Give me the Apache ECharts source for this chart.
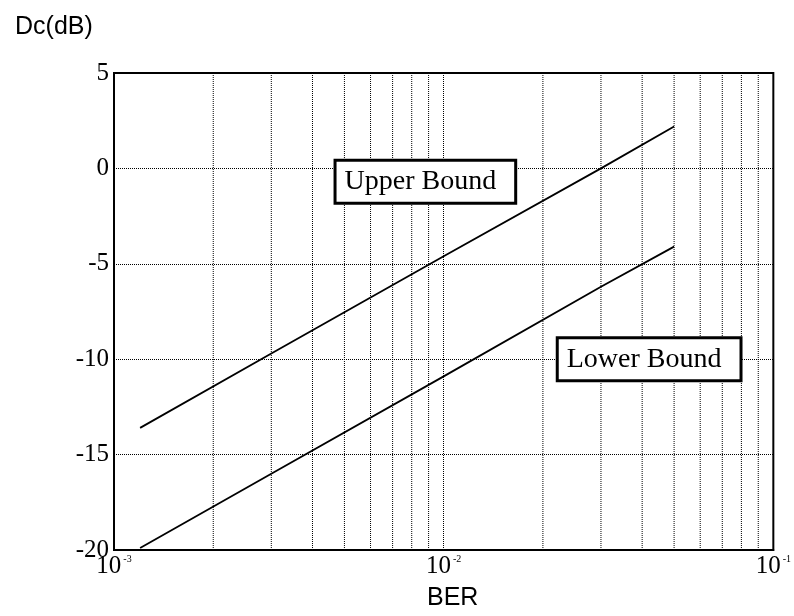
<!DOCTYPE html>
<html>
<head>
<meta charset="utf-8">
<script src="https://cdn.jsdelivr.net/npm/echarts@6/dist/echarts.min.js"></script>
<style>html,body{margin:0;padding:0;background:#fff;}#c{width:794px;height:616px;}</style>
</head>
<body>
<div id="c"></div>
<script>
// BER sample points
const berPoints = [0.0012, 0.003, 0.01, 0.03, 0.05];
const upperBound = [-13.6, -9.7, -4.6, 0.0, 2.2];
const lowerBound = [-19.9, -16.0, -10.9, -6.2, -4.1];
// minor log gridlines (2..9 of each decade)
const minorGridBER = [0.002, 0.003, 0.004, 0.005, 0.006, 0.007, 0.008, 0.009,
                      0.02, 0.03, 0.04, 0.05, 0.06, 0.07, 0.08, 0.09];
const yRange = [-20, 5];
const seriesNames = ['Upper Bound', 'Lower Bound'];
const yLabel = 'Dc(dB)';
const xLabel = 'BER';

const serif = '"Liberation Serif", "DejaVu Serif", serif';
const sans = '"Liberation Sans", Arial, sans-serif';

const chart = echarts.init(document.getElementById('c'), null, {renderer: 'canvas'});

function pairs(ys) { return berPoints.map((x, i) => [x, ys[i]]); }

const boxLabel = {
  show: true,
  position: 'inside',
  color: '#000',
  fontFamily: serif,
  fontSize: 28,
  backgroundColor: '#fff',
  borderColor: '#000',
  borderWidth: 3,
  padding: [7, 18, 5, 8]
};

const gridSeries = minorGridBER.map(v => ({
  type: 'line',
  data: [[v, yRange[0]], [v, yRange[1]]],
  symbol: 'none',
  silent: true,
  lineStyle: {color: '#000', type: 'dotted', width: 1},
  z: 1
}));

const option = {
  backgroundColor: '#fff',
  animation: false,
  title: {
    text: yLabel,
    left: 10,
    top: 10,
    textStyle: {fontFamily: sans, fontSize: 25, fontWeight: 'normal', color: '#000'}
  },
  grid: {
    left: 114, right: 10, top: 73, bottom: 63,
    show: true, borderColor: '#000', borderWidth: 2
  },
  xAxis: {
    type: 'log',
    logBase: 10,
    min: 0.001,
    max: 0.1,
    name: xLabel,
    nameLocation: 'middle',
    nameGap: 36,
    nameTextStyle: {fontFamily: sans, fontSize: 25, color: '#000', padding: [0, 0, 0, 18]},
    axisLine: {show: true, onZero: false, lineStyle: {color: '#000', width: 2}},
    axisTick: {show: false},
    axisLabel: {
      margin: 4,
      formatter: function (v) {
        const e = Math.round(Math.log10(v));
        return '{b|10}{s|' + e + '}';
      },
      rich: {
        b: {fontFamily: serif, fontSize: 25, color: '#000'},
        s: {fontFamily: serif, fontSize: 10, color: '#000', verticalAlign: 'top', padding: [0, 0, 14, 2]}
      }
    },
    splitLine: {show: true, lineStyle: {color: '#000', type: 'dotted', width: 1}}
  },
  yAxis: {
    type: 'value',
    min: yRange[0],
    max: yRange[1],
    interval: 5,
    axisLine: {show: true, onZero: false, lineStyle: {color: '#000', width: 2}},
    axisTick: {show: false},
    axisLabel: {fontFamily: serif, fontSize: 25, color: '#000', margin: 5},
    splitLine: {show: true, lineStyle: {color: '#000', type: 'dotted', width: 1}}
  },
  series: gridSeries.concat([
    {
      name: seriesNames[0],
      type: 'line',
      data: pairs(upperBound),
      showSymbol: false,
      symbol: 'none',
      lineStyle: {color: '#000', width: 1.8},
      z: 3,
      markPoint: {
        symbol: 'rect',
        symbolSize: 0,
        label: boxLabel,
        data: [{coord: [0.0088, -0.7], value: seriesNames[0],
                label: {formatter: seriesNames[0]}}]
      }
    },
    {
      name: seriesNames[1],
      type: 'line',
      data: pairs(lowerBound),
      showSymbol: false,
      symbol: 'none',
      lineStyle: {color: '#000', width: 1.8},
      z: 3,
      markPoint: {
        symbol: 'rect',
        symbolSize: 0,
        label: boxLabel,
        data: [{coord: [0.042, -10.0], value: seriesNames[1],
                label: {formatter: seriesNames[1]}}]
      }
    }
  ])
};

chart.setOption(option);
</script>
</body>
</html>
